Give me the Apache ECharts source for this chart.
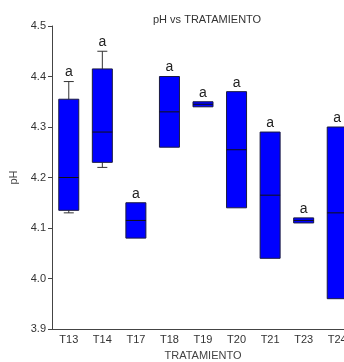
<!DOCTYPE html>
<html>
<head>
<meta charset="utf-8">
<script src="https://cdn.jsdelivr.net/npm/echarts@6/dist/echarts.min.js"></script>
<style>
  html, body { margin: 0; padding: 0; background: #fff; }
  #chart { width: 344px; height: 362px; }
</style>
</head>
<body>
<div id="chart"></div>
<script>
// Treatments and their pH box statistics
const categories = ['T13', 'T14', 'T17', 'T18', 'T19', 'T20', 'T21', 'T23', 'T24'];
const lowWhisker = [4.13, 4.22, 4.08, 4.26, 4.34, 4.14, 4.04, 4.11, 3.96];
const q1 = [4.135, 4.23, 4.08, 4.26, 4.34, 4.14, 4.04, 4.11, 3.96];
const median = [4.20, 4.29, 4.115, 4.33, 4.345, 4.255, 4.165, 4.115, 4.13];
const q3 = [4.355, 4.415, 4.15, 4.40, 4.35, 4.37, 4.29, 4.12, 4.30];
const highWhisker = [4.39, 4.45, 4.15, 4.40, 4.35, 4.37, 4.29, 4.12, 4.30];
const groupLetters = ['a', 'a', 'a', 'a', 'a', 'a', 'a', 'a', 'a'];
const yTicks = [3.9, 4.0, 4.1, 4.2, 4.3, 4.4, 4.5];

const FONT = 'Liberation Sans, Arial, sans-serif';

const boxData = categories.map((c, i) => [i, lowWhisker[i], q1[i], median[i], q3[i], highWhisker[i]]);

function renderBox(params, api) {
  const i = api.value(0);
  const pLow = api.coord([i, api.value(1)]);
  const pQ1 = api.coord([i, api.value(2)]);
  const pMed = api.coord([i, api.value(3)]);
  const pQ3 = api.coord([i, api.value(4)]);
  const pHigh = api.coord([i, api.value(5)]);
  const cx = pMed[0];
  const hw = 10, cw = 5;
  const children = [];
  const wStyle = { stroke: '#333', lineWidth: 1 };
  if (pHigh[1] < pQ3[1] - 0.5) {
    children.push({ type: 'line', shape: { x1: cx, y1: pHigh[1], x2: cx, y2: pQ3[1] }, style: wStyle });
    children.push({ type: 'line', shape: { x1: cx - cw, y1: pHigh[1], x2: cx + cw, y2: pHigh[1] }, style: wStyle });
  }
  if (pLow[1] > pQ1[1] + 0.5) {
    children.push({ type: 'line', shape: { x1: cx, y1: pQ1[1], x2: cx, y2: pLow[1] }, style: wStyle });
    children.push({ type: 'line', shape: { x1: cx - cw, y1: pLow[1], x2: cx + cw, y2: pLow[1] }, style: wStyle });
  }
  children.push({
    type: 'rect',
    shape: { x: cx - hw, y: pQ3[1], width: hw * 2, height: Math.max(pQ1[1] - pQ3[1], 1) },
    style: { fill: '#0000ff', stroke: '#1a1a40', lineWidth: 1 }
  });
  children.push({
    type: 'line',
    shape: { x1: cx - hw, y1: pMed[1], x2: cx + hw, y2: pMed[1] },
    style: { stroke: '#111', lineWidth: 1 }
  });
  children.push({
    type: 'text',
    style: {
      text: groupLetters[params.dataIndex],
      x: cx, y: pHigh[1] - 2,
      align: 'center', verticalAlign: 'bottom',
      font: '14px ' + FONT, fill: '#222'
    }
  });
  return { type: 'group', children: children };
}

const chart = echarts.init(document.getElementById('chart'));
chart.setOption({
  animation: false,
  backgroundColor: '#fff',
  title: {
    text: 'pH vs TRATAMIENTO',
    left: 148, top: 9,
    textStyle: { fontFamily: FONT, fontSize: 11, fontWeight: 'normal', color: '#333' }
  },
  grid: { left: 52, right: -10, top: 26, bottom: 33, containLabel: false, outerBoundsMode: 'none' },
  xAxis: {
    type: 'category',
    data: categories,
    boundaryGap: true,
    name: 'TRATAMIENTO',
    nameLocation: 'middle',
    nameGap: 21,
    nameTextStyle: { fontFamily: FONT, fontSize: 11, color: '#444' },
    axisLine: { lineStyle: { color: '#444' } },
    axisTick: { alignWithLabel: true, length: 4, lineStyle: { color: '#444' } },
    axisLabel: { fontFamily: FONT, fontSize: 11, color: '#333', margin: 5, interval: 0 },
    splitLine: { show: false }
  },
  yAxis: {
    type: 'value',
    min: yTicks[0], max: yTicks[yTicks.length - 1], interval: 0.1,
    name: 'pH',
    nameLocation: 'middle',
    nameGap: 33,
    nameTextStyle: { fontFamily: FONT, fontSize: 11, color: '#444' },
    axisLine: { show: true, lineStyle: { color: '#444' } },
    axisTick: { show: true, length: 4, lineStyle: { color: '#444' } },
    axisLabel: { fontFamily: FONT, fontSize: 11, color: '#333', margin: 6, formatter: v => v.toFixed(1) },
    splitLine: { show: false }
  },
  series: [{
    type: 'custom',
    renderItem: renderBox,
    data: boxData,
    encode: { x: 0, y: [1, 2, 3, 4, 5] },
    clip: false
  }]
});
</script>
</body>
</html>
